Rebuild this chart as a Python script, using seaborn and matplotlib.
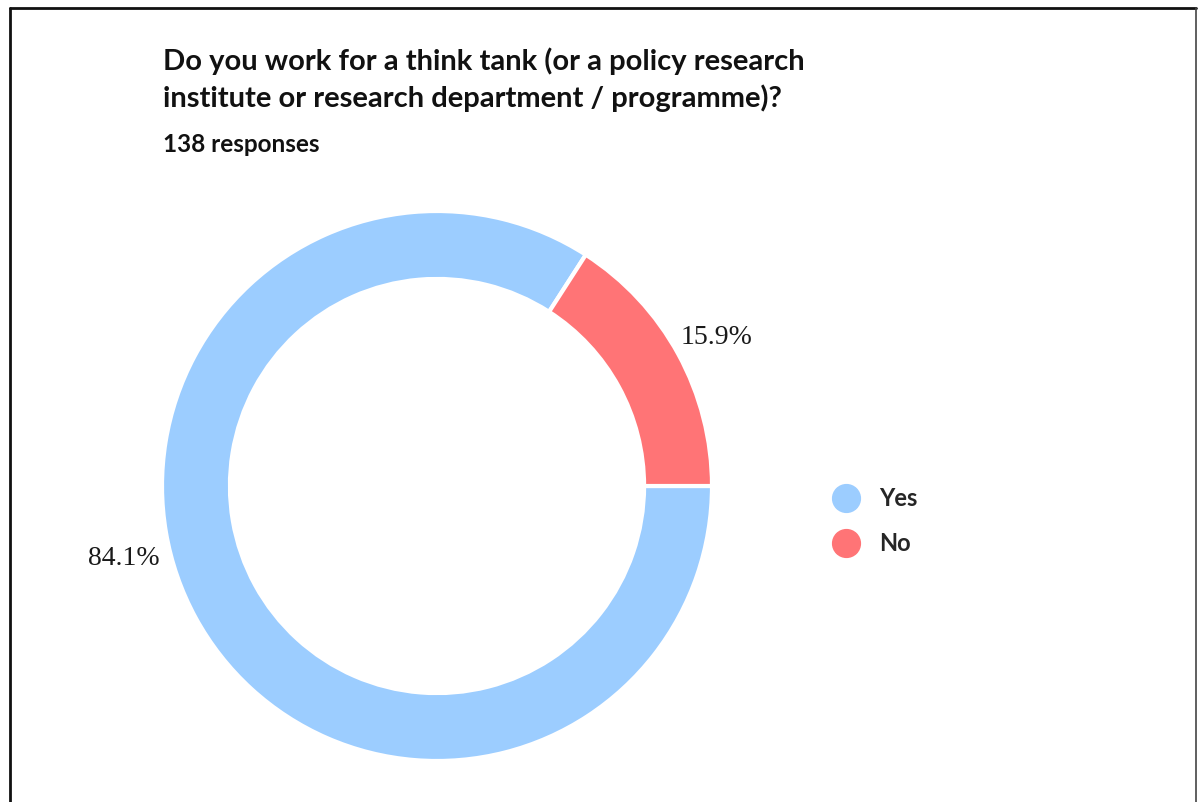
import numpy as np
import matplotlib.pyplot as plt
from matplotlib.lines import Line2D
import seaborn as sns

# survey answers
answers = ['Yes', 'No']
shares = [84.1, 15.9]
colors = ['#9ccdff', '#ff7476']
title = 'Do you work for a think tank (or a policy research\ninstitute or research department / programme)?'
subtitle = '138 responses'

sns.set_theme(style='white')
plt.rcParams['font.family'] = ['Lato', 'DejaVu Sans']

W, H = 1198, 802
fig = plt.figure(figsize=(W / 100, H / 100), dpi=100)
fig.patch.set_facecolor('white')

# donut centre (437, 486) px, outer radius 275 px
cx, cy, r = 437, 486, 275
ax = fig.add_axes([(cx - r) / W, (H - cy - r) / H, 2 * r / W, 2 * r / H])

start = 360 * shares[1] / 100
wedges, _ = ax.pie(shares, colors=colors, startangle=start, counterclock=True,
                   wedgeprops=dict(width=0.247, edgecolor='white', linewidth=3))
ax.set_xlim(-1, 1)
ax.set_ylim(-1, 1)
ax.set_aspect('equal')
ax.axis('off')

# percentage labels
label_angles = [193, 28.0]
label_dist = [1.17, 1.15]
for share, ang, d in zip(shares, label_angles, label_dist):
    t = np.deg2rad(ang)
    ax.text(d * np.cos(t), d * np.sin(t), f'{share}%', ha='center', va='center',
            fontsize=20, family='Liberation Serif', color='#1a1a1a')

fig.text(163 / W, 1 - 80 / H, title, ha='left', va='center', fontsize=21,
         fontweight='bold', color='#111111', linespacing=1.4)
fig.text(163 / W, 1 - 145 / H, subtitle, ha='left', va='center', fontsize=17.5,
         fontweight='bold', color='#111111')

handles = [Line2D([], [], marker='o', linestyle='', markersize=20,
                  markerfacecolor=c, markeredgecolor=c) for c in colors]
fig.legend(handles, answers, loc='center left', bbox_to_anchor=(813 / W, 1 - 521 / H),
           frameon=False, prop={'family': 'Lato', 'weight': 'bold', 'size': 17},
           handletextpad=0.4, labelspacing=0.95, borderaxespad=0)

# frame lines (bottom is cut off)
fig.add_artist(Line2D([10 / W, 10 / W], [0, 1 - 8 / H], color='#111111', lw=2))
fig.add_artist(Line2D([10 / W, 1196 / W], [1 - 8 / H, 1 - 8 / H], color='#111111', lw=2))
fig.add_artist(Line2D([1196 / W, 1196 / W], [0, 1 - 8 / H], color='#444444', lw=1.2))

fig.savefig('out.png', dpi=100, facecolor='white')
